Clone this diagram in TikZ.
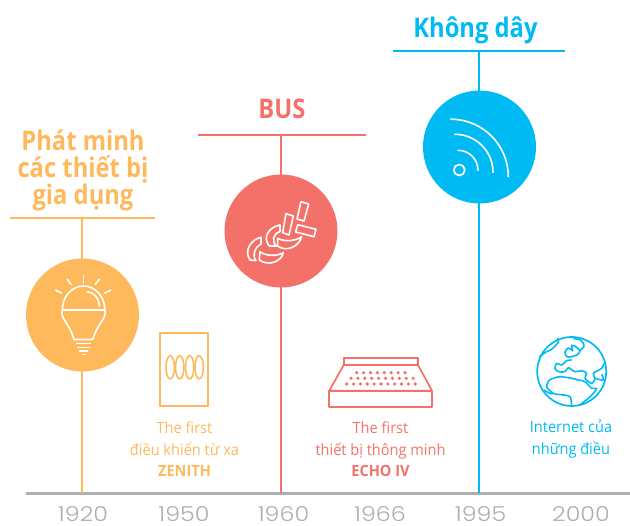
\documentclass[tikz,border=0pt]{standalone}
\usepackage{fontspec}
\setmainfont[FakeStretch=0.94]{Open Sans}
\newfontfamily\headfont[FakeStretch=0.88]{Open Sans Bold}
\newfontfamily\yearfont[FakeStretch=1.16]{Poppins Light}
\definecolor{lampcol}{HTML}{FDB95B}
\definecolor{buscol}{HTML}{F4716A}
\definecolor{aircol}{HTML}{00BBF3}
\definecolor{axiscol}{HTML}{ADADB2}
\begin{document}
\begin{tikzpicture}[line cap=butt,line join=round,x=1pt,y=-1pt,
    hub/.style={circle,minimum size=113pt,inner sep=0pt,draw=none},
    headline/.style={align=center,inner sep=0pt,font=\fontsize{27}{27}\selectfont\headfont},
    caption/.style={align=center,inner sep=0pt,font=\fontsize{15.5}{21.5}\selectfont},
    yearlabel/.style={inner sep=0pt,text=axiscol,font=\fontsize{20.5}{22}\selectfont\yearfont},
    era/.style={line width=1.2pt},
    glyph/.style={line width=1.6pt,color=white}]
    \useasboundingbox (0,0) rectangle (630,526);
    \coordinate (axisleft) at (26,494);
    \coordinate (axisright) at (630,494);
    \draw[axiscol,line width=3pt] (axisleft) -- (axisright);

    \coordinate (lampleft) at (10,218);
    \coordinate (lampright) at (155,218);
    \coordinate (lamptop) at (82,218);
    \coordinate (lampfoot) at (82,493);
    \draw[era,lampcol] (lampleft) -- (lampright);
    \draw[era,lampcol] (lamptop) -- (lampfoot);
    \node[hub,fill=lampcol] (lamp) at (82.5,315) {};
    \node[headline,text=lampcol] (lamptitle) at (83,170.5) {Phát minh\\các thiết bị\\gia dụng};

    \coordinate (busleft) at (198,135);
    \coordinate (busright) at (366,135);
    \coordinate (bustop) at (281,135);
    \coordinate (busfoot) at (281,493);
    \draw[era,buscol] (busleft) -- (busright);
    \draw[era,buscol] (bustop) -- (busfoot);
    \node[hub,fill=buscol] (bus) at (281,231) {};
    \node[headline,text=buscol] (bustitle) at (282,109) {BUS};

    \coordinate (airleft) at (393,51);
    \coordinate (airright) at (565,51);
    \coordinate (airtop) at (479,51);
    \coordinate (airfoot) at (479,493);
    \draw[era,aircol] (airleft) -- (airright);
    \draw[era,aircol] (airtop) -- (airfoot);
    \node[hub,fill=aircol] (air) at (479.5,147) {};
    \node[headline,text=aircol] (airtitle) at (475.5,30) {Không dây};

    \draw[glyph] (62.3,310) arc[start angle=180,end angle=0,x radius=21.3pt,y radius=24pt];
    \draw[glyph] (62.3,310) -- (104.9,310) .. controls (107,319) and (98,322) .. (92.7,339.5)
        -- (74,339.5) .. controls (69,322) and (60,319) .. (62.3,310) -- cycle;
    \draw[glyph] (99.3,306.7) arc[start angle=0,end angle=90,x radius=12.6pt,y radius=15pt];
    \foreach \a/\b/\c/\d in {83.3/275.7/83.3/283,67.3/279.3/71/284.3,99.3/279.3/95.3/284.3,55.7/290.3/61.7/293,110.7/290.3/104.7/293}
    \draw[glyph,line cap=round] (\a,\b) -- (\c,\d);
    \foreach \a/\b/\c in {76/343.5/90.7,77.3/347.5/90,79.3/351/88.3,81.7/354.5/86}
    \draw[glyph] (\a,\b) -- (\c,\b);

    \begin{scope}[shift={(200,120)},x=0.3333pt,y=-0.3333pt,glyph]
    \draw (303,245) -- (326,252) -- (312,303) -- (291,297) -- cycle;
    \draw (258,281) -- (280,288) -- (267,345) -- (248,338) -- cycle;
    \draw (293,314) -- (348,328) -- (342,350) -- (287,336) -- cycle;
    \draw (183,352) .. controls (155,358) and (130,390) .. (150,420) -- (168,422)
        .. controls (155,405) and (165,380) .. (183,372) -- cycle;
    \draw (180,395) .. controls (195,408) and (230,410) .. (250,398)
        .. controls (245,425) and (205,440) .. (178,420) -- cycle;
    \draw (240,315) .. controls (210,320) and (185,350) .. (208,378) -- (230,378)
        .. controls (213,365) and (220,340) .. (240,335) -- cycle;
    \draw (233,355) .. controls (250,365) and (285,365) .. (305,350)
        .. controls (295,385) and (255,395) .. (233,378) -- cycle;
    \end{scope}

    \node[circle,draw=white,line width=1.7pt,minimum size=11pt,inner sep=0pt] (wifidot) at (459.3,170) {};
    \draw[glyph,line cap=round] (508.3,176.7) arc[start angle=0,end angle=90,radius=57.5pt];
    \draw[glyph,line cap=round] (493,172.3) arc[start angle=0,end angle=90,radius=38pt];
    \draw[glyph,line cap=round] (478,170.3) arc[start angle=0,end angle=90,radius=20pt];

    \node[draw=lampcol,line width=1.7pt,minimum width=48pt,minimum height=73pt,inner sep=0pt] (remote) at (184.3,369.7) {};
    \foreach \x in {170.2,179.7,189.7,199.2}
    \draw[lampcol,line width=1.6pt] (\x,367.3) ellipse [x radius=4.2pt,y radius=11.6pt];
    \node[caption,text=lampcol] (remotetext) at (184.5,449.5) {The first\\điều khiển từ xa\\\textbf{ZENITH}};

    \begin{scope}[buscol,line width=1.7pt]
    \draw (343.7,358) rectangle (418,365);
    \draw (343.7,365) -- (329.3,390.7) -- (432,390.7) -- (418,365);
    \draw (329.3,390.7) rectangle (432,406.7);
    \end{scope}
    \foreach \i in {0,...,7}
    \fill[buscol] (356.7+6.9*\i,372.7) circle (1.8pt);
    \foreach \i in {0,...,9}
    \fill[buscol] (351+6.9*\i,378.3) circle (1.8pt);
    \foreach \i in {0,...,10}
    \fill[buscol] (346.7+6.85*\i,384) circle (1.8pt);
    \node[caption,text=buscol] (echotext) at (380.5,449.5) {The first\\thiết bị thông minh\\\textbf{ECHO IV}};

    \node[circle,draw=aircol,line width=1.7pt,minimum size=69pt,inner sep=0pt] (globe) at (571.7,371.5) {};
    \begin{scope}[shift={(530,330)},x=0.3333pt,y=-0.3333pt,aircol,line width=1.6pt]
    \draw plot[smooth] coordinates {(28,80) (50,65) (62,60) (85,37) (82,24)};
    \draw plot[smooth] coordinates {(130,26) (152,30) (162,48) (150,62)};
    \draw plot[smooth cycle] coordinates {(105,66) (115,54) (128,62) (125,46) (137,50) (150,62) (142,74) (125,80) (110,80)};
    \draw plot[smooth] coordinates {(125,90) (110,92) (95,105) (80,100) (75,115) (85,125) (105,125) (115,113) (135,125) (155,122) (170,130) (165,145) (185,160) (195,145) (190,130) (215,115) (222,100)};
    \draw plot[smooth] coordinates {(195,145) (220,150) (215,133)};
    \draw plot[smooth] coordinates {(58,150) (70,145) (90,140) (125,145) (145,150) (165,155) (185,175) (200,175) (190,190) (175,205) (150,225)};
    \draw plot[smooth] coordinates {(58,150) (50,170) (70,190) (100,195) (120,200) (125,226)};
    \draw plot[smooth] coordinates {(42,180) (55,188) (68,192)};
    \end{scope}
    \node[caption,text=aircol] (nettext) at (571,439) {Internet của\\những điều};

    \foreach \x/\y in {83/1920,184/1950,283.5/1960,380/1966,480.5/1995,581/2000}
    \node[yearlabel] (year\y) at (\x,514) {\y};
    \end{tikzpicture}
\end{document}
